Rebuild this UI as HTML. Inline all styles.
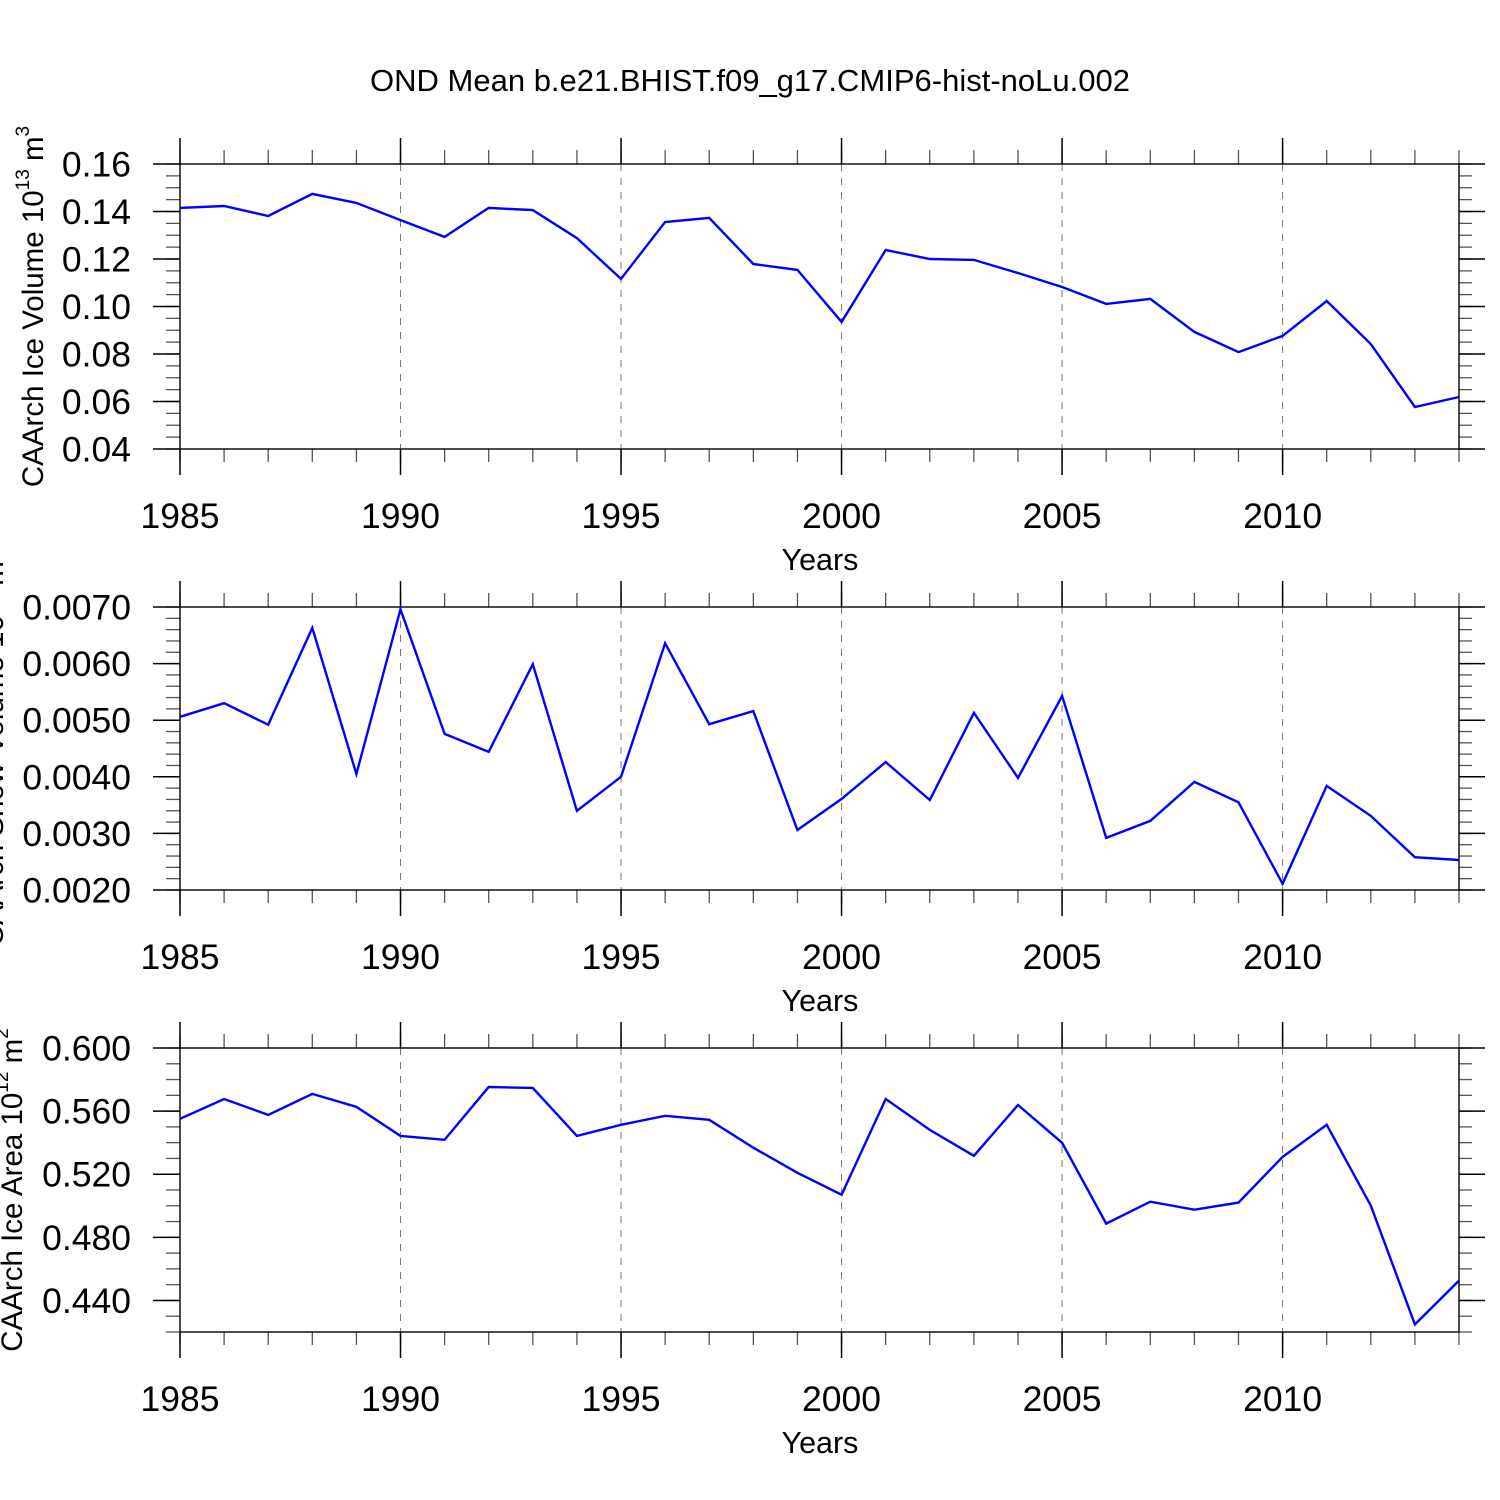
<!DOCTYPE html>
<html><head><meta charset="utf-8"><style>
html,body{margin:0;padding:0;background:#fff;}
svg{display:block;font-family:"Liberation Sans",Arial,sans-serif;}
</style></head><body>
<svg id="chart" width="1500" height="1500" viewBox="0 0 1500 1500">
<rect width="1500" height="1500" fill="#fff"/>
<text x="750" y="91" font-size="31" text-anchor="middle">OND Mean b.e21.BHIST.f09_g17.CMIP6-hist-noLu.002</text>
</svg>
<script>
const years = [1985,1986,1987,1988,1989,1990,1991,1992,1993,1994,1995,1996,1997,1998,1999,2000,2001,2002,2003,2004,2005,2006,2007,2008,2009,2010,2011,2012,2013,2014];
const iceVolume = [0.1415,0.1423,0.1381,0.1474,0.1436,0.1364,0.1293,0.1415,0.1406,0.1288,0.1116,0.1356,0.1373,0.1179,0.1154,0.0935,0.1238,0.1200,0.1196,0.1141,0.1082,0.1011,0.1032,0.0893,0.0808,0.0876,0.1023,0.0842,0.0577,0.0619];
const snowVolume = [0.00506,0.00530,0.00492,0.00663,0.00405,0.00696,0.00476,0.00444,0.00599,0.00340,0.00400,0.00636,0.00493,0.00516,0.00306,0.00361,0.00426,0.00359,0.00513,0.00398,0.00543,0.00292,0.00322,0.00391,0.00355,0.00211,0.00384,0.00331,0.00258,0.00253];
const iceArea = [0.5551,0.5677,0.5576,0.5709,0.5627,0.5443,0.5418,0.5753,0.5747,0.5443,0.5513,0.5570,0.5545,0.5368,0.5209,0.5070,0.5677,0.5481,0.5317,0.5639,0.5399,0.4887,0.5026,0.4975,0.5020,0.5310,0.5513,0.5001,0.4248,0.4526];
const xTicks = [1985,1990,1995,2000,2005,2010];
const yTicks1 = ["0.04","0.06","0.08","0.10","0.12","0.14","0.16"];
const yTicks2 = ["0.0020","0.0030","0.0040","0.0050","0.0060","0.0070"];
const yTicks3 = ["0.440","0.480","0.520","0.560","0.600"];

const NS='http://www.w3.org/2000/svg';
const svg=document.getElementById('chart');
function mk(tag,attrs,parent){const e=document.createElementNS(NS,tag);for(const k in attrs)e.setAttribute(k,attrs[k]);(parent||svg).appendChild(e);return e;}
const X0=180,X1=1459,Y0v=1985,Y1v=2014;
function xs(v){return X0+(v-Y0v)/(Y1v-Y0v)*(X1-X0);}

function panel(cfg){
  const g=mk('g',{});
  
  
  const top=cfg.top,bot=cfg.bot;
  const ys=v=>bot-(v-cfg.ymin)/(cfg.ymax-cfg.ymin)*(bot-top);
  const ln=(x1,y1,x2,y2,w,c,extra)=>{const l=mk('line',Object.assign({x1,y1,x2,y2,stroke:c||'#000','stroke-width':w||1.3},extra||{}),g);return l;};
  for(let y=Y0v;y<=Y1v;y++){const x=xs(y);ln(x,top-14,x,top,1.3,'#555');ln(x,bot,x,bot+13,1.3,'#555');}
  xTicks.forEach(v=>{const x=xs(v);ln(x,top-26,x,top,1.5);ln(x,bot,x,bot+26,1.5);
    if(v>Y0v){const gl=ln(x,top,x,bot,1,'#777',{'stroke-dasharray':'7,7'});}
    const t=mk('text',{x:x,y:bot+79,'font-size':35.5,'text-anchor':'middle'},g);t.textContent=v;
    });
  for(let v=cfg.ymin;v<=cfg.ymax+1e-9;v+=cfg.minor){const y=ys(v);ln(X0-14,y,X0,y,1.3,'#555');ln(X1,y,X1+13,y,1.3,'#555');}
  cfg.ticks.forEach(s=>{const y=ys(parseFloat(s));ln(X0-27,y,X0,y,1.5);ln(X1,y,X1+26,y,1.5);
    const t=mk('text',{x:131,y:y+12.5,'font-size':35.5,'text-anchor':'end'},g);t.textContent=s;
    });
  const fr=mk('rect',{x:X0,y:top,width:X1-X0,height:bot-top,fill:'none',stroke:'#000','stroke-width':1.4},g);
  
  const pts=years.map((yr,i)=>xs(yr).toFixed(1)+','+ys(cfg.data[i]).toFixed(1)).join(' ');
  const pl=mk('polyline',{points:pts,fill:'none',stroke:'#0000ff','stroke-width':2.4,'stroke-linejoin':'miter'},g);
  
  const xt=mk('text',{x:820,y:bot+121,'font-size':30.5,'text-anchor':'middle'},g);xt.textContent='Years';
  
  const yt=mk('text',{x:0,y:0,'font-size':29.5,'text-anchor':'middle',transform:`translate(${cfg.lx},${(top+bot)/2}) rotate(-90)`},g);
  
  yt.innerHTML=cfg.label+' 10<tspan font-size="19" dy="-14">'+cfg.exp+'</tspan><tspan dy="14"> m</tspan><tspan font-size="19" dy="-14">'+cfg.unit+'</tspan>';
}
panel({name:'ice-volume-panel',top:164,bot:449,ymin:0.04,ymax:0.16,minor:0.005,ticks:yTicks1,data:iceVolume,lx:43,label:'CAArch Ice Volume',exp:'13',unit:'3'});
panel({name:'snow-volume-panel',top:607,bot:890,ymin:0.002,ymax:0.007,minor:0.0002,ticks:yTicks2,data:snowVolume,lx:3,label:'CAArch Snow Volume',exp:'13',unit:'3'});
panel({name:'ice-area-panel',top:1048,bot:1332,ymin:0.42,ymax:0.60,minor:0.01,ticks:yTicks3,data:iceArea,lx:22,label:'CAArch Ice Area',exp:'12',unit:'2'});
</script>
</body></html>
